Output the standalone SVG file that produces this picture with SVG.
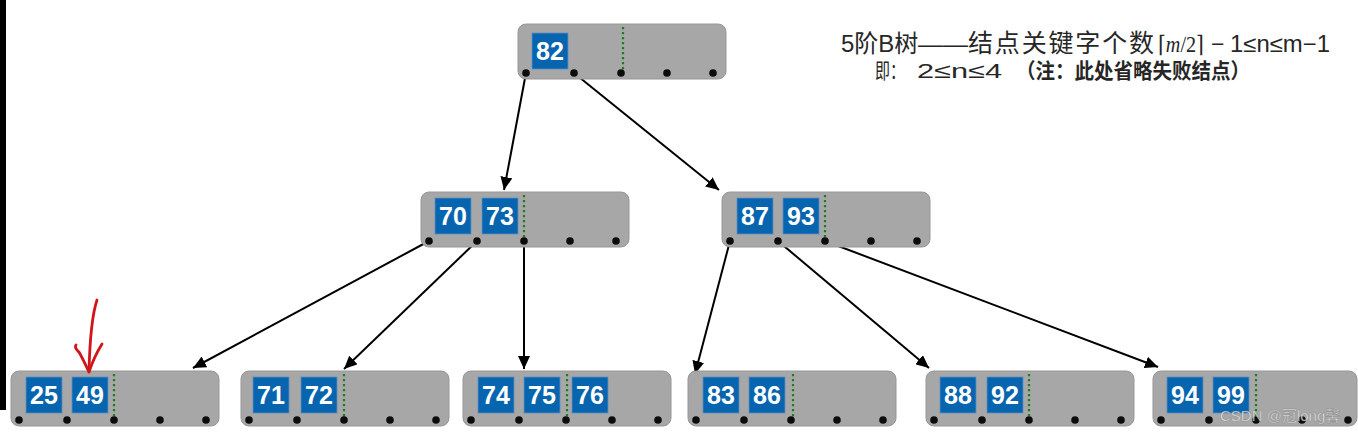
<svg xmlns="http://www.w3.org/2000/svg" width="1358" height="435" viewBox="0 0 1358 435">
<style>
.nd{fill:#a7a7a7;stroke:#979797;stroke-width:1}
.key{fill:#0765b0;stroke:#5d8fc4;stroke-width:0.8}
.kt{fill:#ffffff;font-family:"Liberation Sans",Arial,sans-serif;font-weight:bold;font-size:25px;text-anchor:middle}
.dot{fill:#0c0c0c}
.sep{stroke:#1e7d22;stroke-width:2.2;stroke-dasharray:2.2 2.8}
.edge{stroke:#000;stroke-width:2;fill:none;marker-end:url(#ah)}
.c1{font-family:"Liberation Sans","Noto Sans CJK SC",sans-serif;font-size:23px;fill:#262626}
.c2{font-family:"Liberation Sans","Noto Sans CJK SC",sans-serif;font-size:21px;fill:#262626}
.mt{font-family:"Liberation Serif","DejaVu Serif",serif;font-size:23px;fill:#262626}
</style>
<defs>
<marker id="ah" markerUnits="userSpaceOnUse" markerWidth="14" markerHeight="12" refX="13" refY="6" orient="auto">
<path d="M0,0 L13,6 L0,12 Z" fill="#000"/>
</marker>
<g id="dots">
<circle class="dot" cx="8" cy="49" r="3.8"/>
<circle class="dot" cx="56" cy="49" r="3.8"/>
<circle class="dot" cx="103" cy="49" r="3.8"/>
<circle class="dot" cx="149" cy="49" r="3.8"/>
<circle class="dot" cx="195" cy="49" r="3.8"/>
</g>
</defs>
<rect x="0" y="0" width="1358" height="435" fill="#ffffff"/>
<rect x="0" y="0" width="6" height="410" fill="#000"/>

<g id="connectors">
<line class="edge" x1="526" y1="73" x2="504" y2="190"/>
<line class="edge" x1="574" y1="73" x2="719" y2="190"/>
<line class="edge" x1="429" y1="241" x2="193" y2="368"/>
<line class="edge" x1="477" y1="241" x2="344" y2="369"/>
<line class="edge" x1="524" y1="241" x2="524" y2="369"/>
<line class="edge" x1="730" y1="241" x2="695" y2="374"/>
<line class="edge" x1="778" y1="241" x2="929" y2="368"/>
<line class="edge" x1="825" y1="241" x2="1158" y2="367"/>
</g>

<g id="n82" transform="translate(518,24)">
<rect class="nd" x="0" y="0" width="208" height="55" rx="8"/>
<line class="sep" x1="105" y1="3" x2="105" y2="49"/>
<rect class="key" x="14" y="9" width="36" height="36"/>
<text class="kt" x="32" y="36">82</text>
<use href="#dots"/>
</g>

<g id="n70_73" transform="translate(421,192)">
<rect class="nd" x="0" y="0" width="208" height="55" rx="8"/>
<line class="sep" x1="103" y1="3" x2="103" y2="49"/>
<rect class="key" x="14" y="6" width="36" height="36"/>
<text class="kt" x="32" y="33">70</text>
<rect class="key" x="61" y="6" width="36" height="36"/>
<text class="kt" x="79" y="33">73</text>
<use href="#dots"/>
</g>

<g id="n87_93" transform="translate(722,192)">
<rect class="nd" x="0" y="0" width="208" height="55" rx="8"/>
<line class="sep" x1="103" y1="3" x2="103" y2="49"/>
<rect class="key" x="15" y="6" width="36" height="36"/>
<text class="kt" x="33" y="33">87</text>
<rect class="key" x="61" y="6" width="36" height="36"/>
<text class="kt" x="79" y="33">93</text>
<use href="#dots"/>
</g>

<g id="n25_49" transform="translate(11,371)">
<rect class="nd" x="0" y="0" width="208" height="55" rx="8"/>
<line class="sep" x1="103" y1="3" x2="103" y2="49"/>
<rect class="key" x="15" y="6" width="36" height="36"/>
<text class="kt" x="33" y="33">25</text>
<rect class="key" x="61" y="6" width="36" height="36"/>
<text class="kt" x="79" y="33">49</text>
<use href="#dots"/>
</g>

<g id="n71_72" transform="translate(241,371)">
<rect class="nd" x="0" y="0" width="208" height="55" rx="8"/>
<line class="sep" x1="103" y1="3" x2="103" y2="49"/>
<rect class="key" x="12" y="6" width="36" height="36"/>
<text class="kt" x="30" y="33">71</text>
<rect class="key" x="60" y="6" width="36" height="36"/>
<text class="kt" x="78" y="33">72</text>
<use href="#dots"/>
</g>

<g id="n74_75_76" transform="translate(463,371)">
<rect class="nd" x="0" y="0" width="208" height="55" rx="8"/>
<line class="sep" x1="104" y1="3" x2="104" y2="49"/>
<rect class="key" x="15" y="6" width="36" height="36"/>
<text class="kt" x="33" y="33">74</text>
<rect class="key" x="61" y="6" width="36" height="36"/>
<text class="kt" x="79" y="33">75</text>
<rect class="key" x="109" y="6" width="36" height="36"/>
<text class="kt" x="127" y="33">76</text>
<use href="#dots"/>
</g>

<g id="n83_86" transform="translate(688,371)">
<rect class="nd" x="0" y="0" width="208" height="55" rx="8"/>
<line class="sep" x1="105" y1="3" x2="105" y2="49"/>
<rect class="key" x="15" y="6" width="36" height="36"/>
<text class="kt" x="33" y="33">83</text>
<rect class="key" x="61" y="6" width="36" height="36"/>
<text class="kt" x="79" y="33">86</text>
<use href="#dots"/>
</g>

<g id="n88_92" transform="translate(926,371)">
<rect class="nd" x="0" y="0" width="208" height="55" rx="8"/>
<line class="sep" x1="103" y1="3" x2="103" y2="49"/>
<rect class="key" x="14" y="6" width="36" height="36"/>
<text class="kt" x="32" y="33">88</text>
<rect class="key" x="61" y="6" width="36" height="36"/>
<text class="kt" x="79" y="33">92</text>
<use href="#dots"/>
</g>

<g id="n94_99" transform="translate(1153,371)">
<rect class="nd" x="0" y="0" width="204" height="55" rx="8"/>
<line class="sep" x1="103" y1="3" x2="103" y2="49"/>
<rect class="key" x="14" y="6" width="36" height="36"/>
<text class="kt" x="32" y="33">94</text>
<rect class="key" x="60" y="6" width="36" height="36"/>
<text class="kt" x="78" y="33">99</text>
<use href="#dots"/>
</g>

<g id="pointer">
<path d="M97,300 C93,312 90,332 89,371" fill="none" stroke="#d0161b" stroke-width="2.8" stroke-linecap="round"/>
<path d="M76,345 C74,348 77,350 79,352 C83,359 86,366 89,372 C92,363 97,352 102,344" fill="none" stroke="#d0161b" stroke-width="2.8" stroke-linecap="round" stroke-linejoin="round"/>
</g>

<g id="caption">
<text class="c1" x="841" y="52" style="font-size:24px">5阶B树</text>
<text class="c1" x="918" y="52" textLength="50" lengthAdjust="spacingAndGlyphs">——</text>
<text class="c1" x="968" y="52" style="font-size:25px" textLength="186" lengthAdjust="spacing">结点关键字个数</text>
<text class="mt" x="1158" y="52" textLength="46" lengthAdjust="spacingAndGlyphs">⌈<tspan font-style="italic">m</tspan>/2⌉</text>
<text class="c1" x="1211" y="52">−</text>
<text class="c1" x="1230" y="52" textLength="100" lengthAdjust="spacingAndGlyphs">1≤n≤m−1</text>
<text class="c2" x="875" y="78" textLength="30" lengthAdjust="spacingAndGlyphs">即：</text>
<text class="c2" x="917" y="78" textLength="85" lengthAdjust="spacingAndGlyphs">2≤n≤4</text>
<text class="c2" x="1016" y="78" font-weight="bold" textLength="234" lengthAdjust="spacingAndGlyphs">（注：此处省略失败结点）</text>
</g>

<text x="1220" y="421" font-family="'Liberation Sans','Noto Sans CJK SC',sans-serif" font-size="15" fill="#ffffff" fill-opacity="0.8" stroke="#666" stroke-opacity="0.5" stroke-width="0.6">CSDN @冠long馨</text>
</svg>
